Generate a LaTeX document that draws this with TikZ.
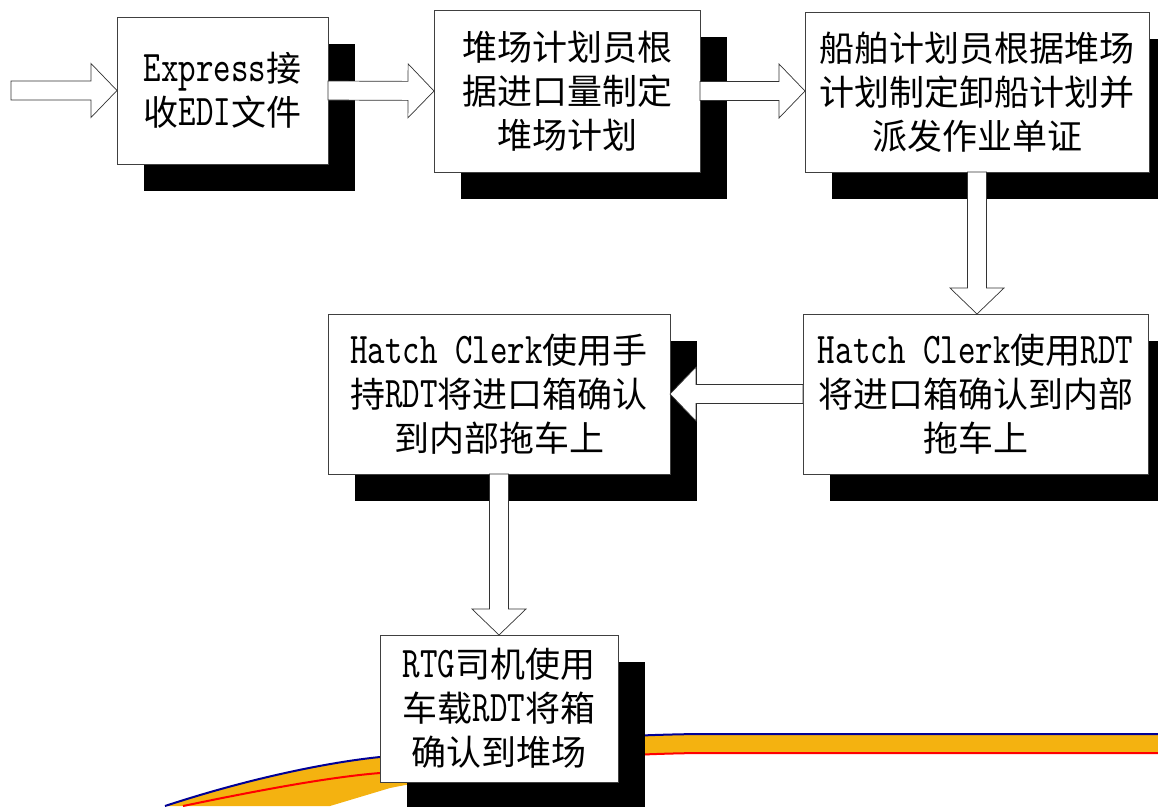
\documentclass[tikz,border=0pt]{standalone}
\usepackage{fontspec}
\setmainfont{Noto Sans CJK SC}
% tall, narrow serif mono for the Latin words (half the CJK width)
\newfontfamily\latmono{lmmono10-regular}[Extension=.otf,Scale=1.25,FakeStretch=0.762]
\usetikzlibrary{calc,shadows}
\definecolor{bandorange}{RGB}{244,178,16}
\definecolor{bandblue}{RGB}{0,0,150}
\definecolor{bandred}{RGB}{255,0,0}
\begin{document}
\begin{tikzpicture}[x=1pt,y=-1pt,
  stepbox/.style={draw=black!75, line width=0.8pt, fill=white, inner sep=0pt,
    outer sep=0pt, align=center, font=\fontsize{35}{44}\selectfont,
    drop shadow={shadow xshift=27pt, shadow yshift=-27pt, fill=black,
      opacity=1, draw=none}},
  blockarrow/.style={draw=black!80, line width=0.7pt, fill=white, line join=miter,
    to path={let \p1=(\tikztostart), \p2=(\tikztotarget),
      \n1={atan2(\y2-\y1,\x2-\x1)}, \n2={veclen(\x2-\x1,\y2-\y1)} in
      {[shift={(\p1)}, rotate=\n1]
        (0,-9.5) -- ({\n2-26},-9.5) -- ({\n2-26},-27) -- (\n2,0)
        -- ({\n2-26},27) -- ({\n2-26},9.5) -- (0,9.5) -- cycle}}}]
\useasboundingbox (0,0) rectangle (1158,806);
\clip (0,0) rectangle (1158,806);

% orange band running behind the last box
\fill[bandorange] (165,806) .. controls (250,778) and (330,762) .. (380,757)
  .. controls (480,745) and (600,735) .. (700,734) -- (1170,734)
  -- (1170,753) -- (700,753) .. controls (600,755) and (480,770) .. (390,788)
  -- (330,806) -- cycle;
\draw[bandblue, line width=2pt] (165,806) .. controls (250,778) and (330,762) .. (380,757)
  .. controls (480,745) and (600,735) .. (700,734) -- (1170,734);
\draw[bandred, line width=2pt] (183,806) .. controls (260,790) and (330,777) .. (380,773)
  .. controls (480,765) and (600,754) .. (700,753) -- (1170,753);

% process steps
\node[stepbox, minimum width=211pt, minimum height=147pt] (recv) at (222.5,90.5)
  {{\latmono Express}接\\收{\latmono EDI}文件};
\node[stepbox, minimum width=266pt, minimum height=162pt] (yardplan) at (567,91)
  {堆场计划员根\\据进口量制定\\堆场计划};
\node[stepbox, minimum width=344pt, minimum height=160pt] (shipplan) at (977,92)
  {船舶计划员根据堆场\\计划制定卸船计划并\\派发作业单证};
\node[stepbox, minimum width=345pt, minimum height=160pt] (hatchrdt) at (975.5,394)
  {{\latmono Hatch Clerk}使用{\latmono RDT}\\将进口箱确认到内部\\拖车上};
\node[stepbox, minimum width=342pt, minimum height=160pt] (hatchhand) at (499,394)
  {{\latmono Hatch Clerk}使用手\\持{\latmono RDT}将进口箱确认\\到内部拖车上};
\node[stepbox, minimum width=238pt, minimum height=147pt] (rtg) at (499,708.5)
  {{\latmono RTG}司机使用\\车载{\latmono RDT}将箱\\确认到堆场};

% block arrows between the steps
\coordinate (start) at (11,90.5);
\draw[blockarrow] (start) to (recv.west);
\draw[blockarrow] (recv.east) to (yardplan.west);
\draw[blockarrow] (yardplan.east) to (yardplan.east -| shipplan.west);
\draw[blockarrow] (shipplan.south) to (shipplan.south |- hatchrdt.north);
\draw[blockarrow] (hatchrdt.west) to (hatchrdt.west -| hatchhand.east);
\draw[blockarrow] (hatchhand.south) to (rtg.north);
\end{tikzpicture}
\end{document}
